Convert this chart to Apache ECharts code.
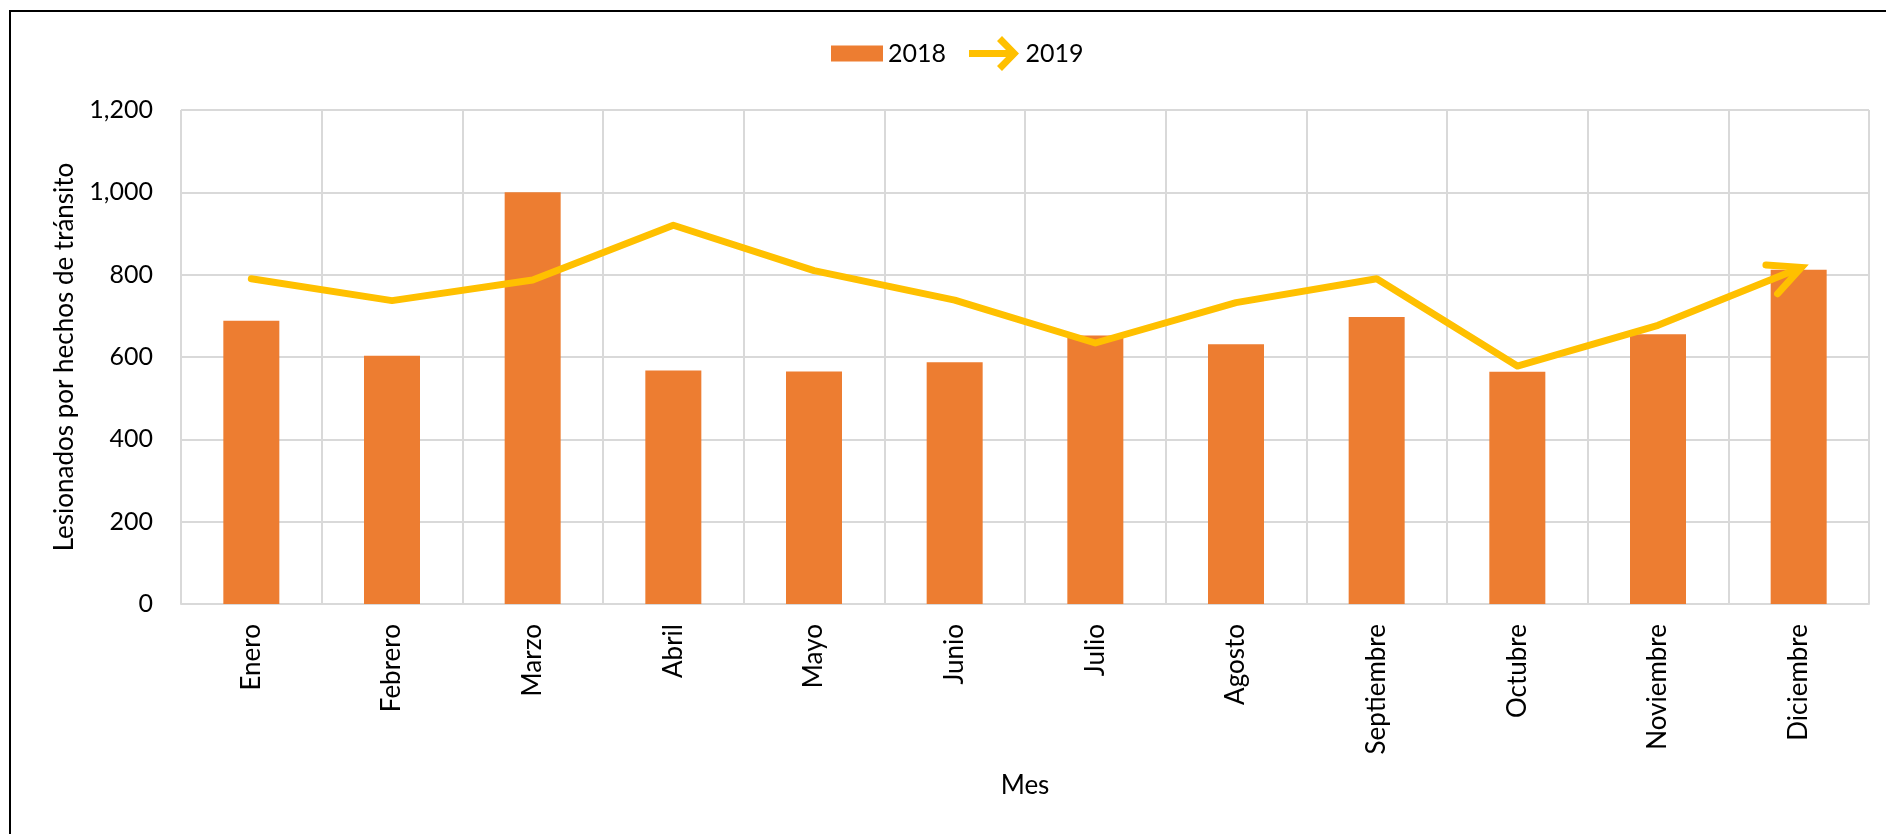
<!DOCTYPE html>
<html>
<head>
<meta charset="utf-8">
<script src="https://cdn.jsdelivr.net/npm/echarts@6/dist/echarts.min.js"></script>
<style>
  html, body { margin: 0; padding: 0; background: #fff; }
  #chart { width: 1886px; height: 834px; }
</style>
</head>
<body>
<div id="chart"></div>
<script>
// datos
const meses = ['Enero', 'Febrero', 'Marzo', 'Abril', 'Mayo', 'Junio', 'Julio',
  'Agosto', 'Septiembre', 'Octubre', 'Noviembre', 'Diciembre']
const valores2018 = [688, 603, 1000, 567, 565, 587, 652, 631, 697, 564, 655, 812]
const valores2019 = [790, 737, 787, 920, 810, 738, 634, 732, 790, 578, 677, 815]
const ejeYMin = 0
const ejeYMax = 1200
const ejeYPaso = 200

const fuente = 'Lato'
const colorBarra = '#ED7D31'
const colorLinea = '#FFC000'
const colorRejilla = '#D9D9D9'

// punta de flecha abierta para el último punto
const flecha = 'path://M0 0 L32 15.5 L0 31'
// icono de leyenda: línea con flecha
const iconoFlecha = 'path://M3 14 L48 14 L48 21 L3 21 Z M36 0 L53 17.5 L36 35 L31 30 L43.5 17.5 L31 5 Z'

const chart = echarts.init(document.getElementById('chart'))

const datosLinea = (rot, offset) => valores2019.map((v, i) => {
  if (i < valores2019.length - 1) return v
  return {
    value: v,
    symbol: flecha,
    symbolSize: [32, 31],
    symbolRotate: rot,
    symbolOffset: offset,
    itemStyle: {
      color: 'transparent',
      borderColor: colorLinea,
      borderWidth: 7,
      borderCap: 'round',
      borderJoin: 'miter'
    }
  }
})

const option = {
  animation: false,
  backgroundColor: '#fff',
  textStyle: { fontFamily: fuente },
  // marco exterior
  graphic: [{
    type: 'rect',
    shape: { x: 10, y: 11, width: 1900, height: 900 },
    style: { fill: 'none', stroke: '#000', lineWidth: 2 },
    silent: true
  }],
  legend: [
    {
      data: ['2018'],
      left: 831,
      top: 36,
      padding: 0,
      itemWidth: 52,
      itemHeight: 16,
      icon: 'rect',
      textStyle: { fontFamily: fuente, fontSize: 25, color: '#000', lineHeight: 35 }
    },
    {
      data: [{ name: '2019', icon: iconoFlecha }],
      left: 969,
      top: 36,
      padding: 0,
      itemWidth: 53,
      itemHeight: 35,
      itemStyle: { borderWidth: 0 },
      textStyle: { fontFamily: fuente, fontSize: 25, color: '#000', lineHeight: 35 }
    }
  ],
  grid: { left: 181, right: 17, top: 110, bottom: 230 },
  xAxis: {
    type: 'category',
    data: meses,
    boundaryGap: true,
    name: 'Mes',
    nameLocation: 'middle',
    nameGap: 169,
    nameTextStyle: { fontFamily: fuente, fontSize: 26, color: '#000' },
    axisLine: { lineStyle: { color: colorRejilla, width: 2 } },
    axisTick: { show: false },
    splitLine: { show: true, lineStyle: { color: colorRejilla, width: 2 } },
    axisLabel: {
      rotate: 90,
      interval: 0,
      margin: 20,
      fontFamily: fuente,
      fontSize: 26,
      color: '#000'
    }
  },
  yAxis: {
    type: 'value',
    min: ejeYMin,
    max: ejeYMax,
    interval: ejeYPaso,
    name: 'Lesionados por hechos de tránsito',
    nameLocation: 'middle',
    nameRotate: 90,
    nameGap: 103,
    nameTextStyle: { fontFamily: fuente, fontSize: 26, color: '#000' },
    axisLine: { show: false },
    axisTick: { show: false },
    splitLine: { lineStyle: { color: colorRejilla, width: 2 } },
    axisLabel: {
      margin: 28,
      fontFamily: fuente,
      fontSize: 25,
      color: '#000',
      formatter: (v) => v.toLocaleString('en-US')
    }
  },
  series: [
    {
      name: '2018',
      type: 'bar',
      data: valores2018,
      barWidth: 56,
      itemStyle: { color: colorBarra }
    },
    {
      name: '2019',
      type: 'line',
      data: datosLinea(0, [0, 0]),
      symbol: 'none',
      showSymbol: true,
      showAllSymbol: true,
      itemStyle: { color: colorLinea },
      lineStyle: { color: colorLinea, width: 7, cap: 'round', join: 'round' }
    }
  ]
}

chart.setOption(option)

// orientar la flecha según el último tramo de la línea
const n = valores2019.length
const a = chart.convertToPixel({ gridIndex: 0 }, [n - 2, valores2019[n - 2]])
const b = chart.convertToPixel({ gridIndex: 0 }, [n - 1, valores2019[n - 1]])
const ang = Math.atan2(a[1] - b[1], b[0] - a[0])
const offset = [-13 * Math.cos(ang), 13 * Math.sin(ang)]
chart.setOption({ series: [{}, { data: datosLinea(ang * 180 / Math.PI, offset) }] })
</script>
</body>
</html>
